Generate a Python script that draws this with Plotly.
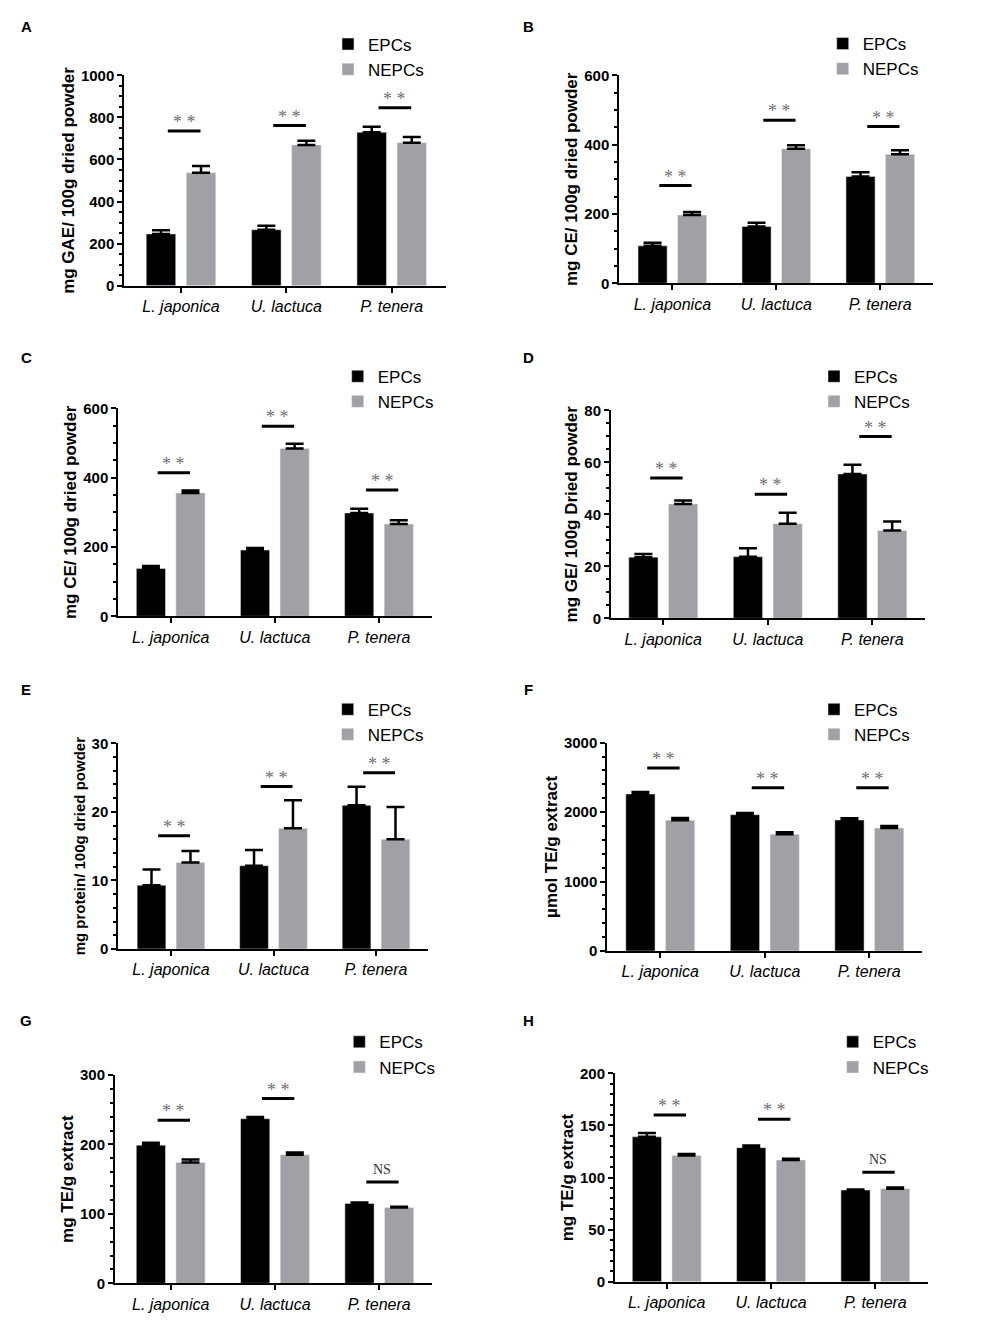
import plotly.graph_objects as go

categories = ["L. japonica", "U. lactuca", "P. tenera"]

# panel A - total phenolics
A_epcs = [246, 266, 729]
A_epcs_err = [18, 19, 27]
A_nepcs = [537, 669, 680]
A_nepcs_err = [32, 20, 27]
A_sig = [735, 761, 846]
A_marks = ["**", "**", "**"]

# panel B
B_epcs = [108, 164, 308]
B_epcs_err = [9, 11, 12]
B_nepcs = [197, 388, 372]
B_nepcs_err = [9, 10, 12]
B_sig = [282, 470, 452]
B_marks = ["**", "**", "**"]

# panel C
C_epcs = [138, 191, 298]
C_epcs_err = [7, 6, 12]
C_nepcs = [356, 484, 266]
C_nepcs_err = [7, 14, 11]
C_sig = [414, 548, 364]
C_marks = ["**", "**", "**"]

# panel D
D_epcs = [23.5, 23.7, 55.5]
D_epcs_err = [1.2, 3.2, 3.6]
D_nepcs = [44.0, 36.4, 33.8]
D_nepcs_err = [1.3, 4.2, 3.4]
D_sig = [54, 47.7, 69.9]
D_marks = ["**", "**", "**"]

# panel E
E_epcs = [9.3, 12.15, 20.95]
E_epcs_err = [2.3, 2.3, 2.7]
E_nepcs = [12.6, 17.6, 16.0]
E_nepcs_err = [1.7, 4.1, 4.7]
E_sig = [16.5, 23.7, 25.7]
E_marks = ["**", "**", "**"]

# panel F
F_epcs = [2261, 1963, 1887]
F_epcs_err = [29, 24, 24]
F_nepcs = [1882, 1680, 1771]
F_nepcs_err = [33, 29, 29]
F_sig = [2635, 2352, 2352]
F_marks = ["**", "**", "**"]

# panel G
G_epcs = [199, 237, 115]
G_epcs_err = [3.4, 2.4, 1.4]
G_nepcs = [174, 185, 109]
G_nepcs_err = [4.3, 3.4, 1.4]
G_sig = [235, 266, 146]
G_marks = ["**", "**", "NS"]

# panel H
H_epcs = [139, 128.6, 88]
H_epcs_err = [3.8, 2.0, 0.6]
H_nepcs = [121, 116.8, 89.3]
H_nepcs_err = [1.6, 1.3, 1.0]
H_sig = [160, 156, 105]
H_marks = ["**", "**", "NS"]

# page is 1001x1339, the html body adds an 8px margin all round
PAGE_W, PAGE_H, BODY = 1001, 1339, 8
W, H = PAGE_W - 2 * BODY, PAGE_H - 2 * BODY
FONT = "Arial, Liberation Sans, sans-serif"
SERIF = "Liberation Serif, Times New Roman, serif"
GREY = "#a1a1a5"


def px(x):
    return (x - BODY) / W


def py(y):
    return 1 - (y - BODY) / H


panels = [
    dict(letter="A", epcs=A_epcs, epcs_err=A_epcs_err, nepcs=A_nepcs, nepcs_err=A_nepcs_err,
         sig=A_sig, marks=A_marks, title="mg GAE/ 100g dried powder", ymax=1000, dtick=200, minor=50,
         box=(124.3, 446, 75.3, 285.7), xr=(-0.538, 2.515), leg=(368, 45.5), let=(26, 27), tsize=17),
    dict(letter="B", epcs=B_epcs, epcs_err=B_epcs_err, nepcs=B_nepcs, nepcs_err=B_nepcs_err,
         sig=B_sig, marks=B_marks, title="mg CE/ 100g dried powder", ymax=600, dtick=200, minor=50,
         box=(619.3, 933.3, 75.3, 283.3), xr=(-0.51, 2.51), leg=(862.7, 45), let=(528, 27), tsize=17),
    dict(letter="C", epcs=C_epcs, epcs_err=C_epcs_err, nepcs=C_nepcs, nepcs_err=C_nepcs_err,
         sig=C_sig, marks=C_marks, title="mg CE/ 100g dried powder", ymax=600, dtick=200, minor=50,
         box=(118.3, 432.3, 408.3, 616.3), xr=(-0.503, 2.512), leg=(377.7, 377.7), let=(26, 357), tsize=17),
    dict(letter="D", epcs=D_epcs, epcs_err=D_epcs_err, nepcs=D_nepcs, nepcs_err=D_nepcs_err,
         sig=D_sig, marks=D_marks, title="mg GE/ 100g Dried powder", ymax=80, dtick=20, minor=5,
         box=(611, 925, 410.3, 618.3), xr=(-0.5, 2.504), leg=(854, 377.7), let=(528, 357), tsize=17),
    dict(letter="E", epcs=E_epcs, epcs_err=E_epcs_err, nepcs=E_nepcs, nepcs_err=E_nepcs_err,
         sig=E_sig, marks=E_marks, title="mg protein/ 100g dried powder", ymax=30, dtick=10, minor=2,
         box=(118.3, 428.3, 743.3, 949), xr=(-0.514, 2.51), leg=(367.7, 710.7), let=(26, 690), tsize=15),
    dict(letter="F", epcs=F_epcs, epcs_err=F_epcs_err, nepcs=F_nepcs, nepcs_err=F_nepcs_err,
         sig=F_sig, marks=F_marks, title="µmol TE/g extract", ymax=3000, dtick=1000, minor=200,
         box=(607.3, 922.3, 742.7, 951), xr=(-0.507, 2.507), leg=(854, 710.7), let=(528, 690), tsize=17),
    dict(letter="G", epcs=G_epcs, epcs_err=G_epcs_err, nepcs=G_nepcs, nepcs_err=G_nepcs_err,
         sig=G_sig, marks=G_marks, title="mg TE/g extract", ymax=300, dtick=100, minor=20,
         box=(115, 432.3, 1075, 1283.3), xr=(-0.534, 2.508), leg=(379.3, 1043.3), let=(26, 1021), tsize=17),
    dict(letter="H", epcs=H_epcs, epcs_err=H_epcs_err, nepcs=H_nepcs, nepcs_err=H_nepcs_err,
         sig=H_sig, marks=H_marks, title="mg TE/g extract", ymax=200, dtick=50, minor=10,
         box=(615, 927.7, 1073.3, 1281.7), xr=(-0.496, 2.502), leg=(872.7, 1043.3), let=(528, 1021), tsize=17),
]

fig = go.Figure()
layout = {}
shapes = []
annotations = []

for i, p in enumerate(panels):
    k = "" if i == 0 else str(i + 1)
    xa, ya, lg = "x" + k, "y" + k, "legend" + k

    fig.add_trace(go.Bar(x=categories, y=p["epcs"], name="EPCs", marker_color="black",
                         width=0.28, offset=-0.33, xaxis=xa, yaxis=ya, legend=lg,
                         error_y=dict(type="data", symmetric=False, array=p["epcs_err"],
                                      arrayminus=[0, 0, 0], color="black", thickness=2.5, width=9)))
    fig.add_trace(go.Bar(x=categories, y=p["nepcs"], name="NEPCs", marker_color=GREY,
                         width=0.28, offset=0.05, xaxis=xa, yaxis=ya, legend=lg,
                         error_y=dict(type="data", symmetric=False, array=p["nepcs_err"],
                                      arrayminus=[0, 0, 0], color="black", thickness=2.5, width=9)))

    x0, x1, ytop, ybot = p["box"]
    layout["xaxis" + k] = dict(
        domain=[px(x0), px(x1)], anchor=ya, type="category", range=list(p["xr"]),
        automargin=False, showline=True, linecolor="black", linewidth=2,
        ticks="outside", ticklen=5, tickwidth=2, tickcolor="black",
        showgrid=False, zeroline=False,
        tickfont=dict(family=FONT, size=16, style="italic", color="black"))
    layout["yaxis" + k] = dict(
        domain=[py(ybot), py(ytop)], anchor=xa, range=[0, p["ymax"]],
        automargin=False, tick0=0, dtick=p["dtick"], showline=True, linecolor="black", linewidth=2,
        ticks="outside", ticklen=5, tickwidth=2, tickcolor="black",
        minor=dict(dtick=p["minor"], ticks="outside", ticklen=3, tickwidth=1.5, tickcolor="black"),
        showgrid=False, zeroline=False,
        tickfont=dict(family=FONT, size=15, weight="bold", color="black"),
        title=dict(text=p["title"], standoff=2,
                   font=dict(family=FONT, size=p["tsize"], weight="bold", color="black")))

    lx, ly = p["leg"]
    layout[lg] = dict(x=px(lx - 40), y=py(ly - 19), xanchor="left", yanchor="top",
                      bgcolor="rgba(0,0,0,0)", font=dict(family=FONT, size=17, color="black"),
                      tracegroupgap=0, itemclick=False)

    # significance bars
    for j, (yv, mk) in enumerate(zip(p["sig"], p["marks"])):
        shapes.append(dict(type="line", xref=xa, yref=ya, x0=j - 0.125, x1=j + 0.185,
                           y0=yv, y1=yv, line=dict(color="black", width=3)))
        if mk == "NS":
            annotations.append(dict(xref=xa, yref=ya, x=j + 0.03, y=yv, text="NS",
                                    showarrow=False, yanchor="bottom", yshift=3,
                                    font=dict(family=SERIF, size=14, color="#333")))
        else:
            annotations.append(dict(xref=xa, yref=ya, x=j + 0.03, y=yv, text="* *",
                                    showarrow=False, yanchor="bottom", yshift=-3,
                                    font=dict(family=SERIF, size=18, color="#707070")))

    lx_, ly_ = p["let"]
    annotations.append(dict(xref="paper", yref="paper", x=px(lx_), y=py(ly_),
                            text=p["letter"], showarrow=False, xanchor="center", yanchor="middle",
                            font=dict(family=FONT, size=15, weight="bold", color="black")))

fig.update_layout(**layout)
fig.update_layout(
    width=W, height=H, margin=dict(l=0, r=0, t=0, b=0, autoexpand=False),
    paper_bgcolor="white", plot_bgcolor="white",
    barmode="overlay", showlegend=True,
    shapes=shapes, annotations=annotations,
    font=dict(family=FONT, color="black"),
)

fig.write_html("out.html")
